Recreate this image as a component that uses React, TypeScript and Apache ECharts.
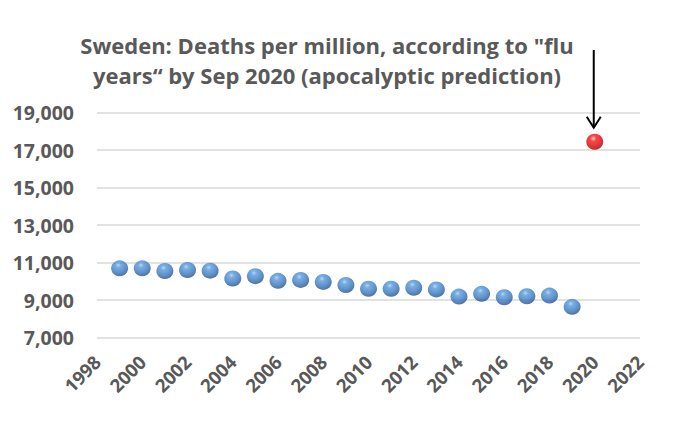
import React, { useEffect, useRef } from "react";
import * as echarts from "echarts";

const years: number[] = [1999, 2000, 2001, 2002, 2003, 2004, 2005, 2006, 2007, 2008, 2009, 2010, 2011, 2012, 2013, 2014, 2015, 2016, 2017, 2018, 2019];
const deaths: number[] = [10690, 10690, 10545, 10600, 10565, 10145, 10270, 10020, 10070, 9965, 9800, 9600, 9600, 9655, 9565, 9180, 9330, 9145, 9200, 9235, 8635];
const predictionYear: number[] = [2020];
const predictionValue: number[] = [17440];
const titleLines: string[] = ["Sweden: Deaths per million, according to \"flu", "years\u201c by Sep 2020 (apocalyptic prediction)"];

const FONT = "'Open Sans', 'Liberation Sans', sans-serif";
const GRAY = "#595959";

export default function App() {
  const ref = useRef<HTMLDivElement>(null);
  useEffect(() => {
    document.body.style.margin = "0";
    const chart = echarts.init(ref.current!, undefined, { renderer: "svg" });
    const blueFill = new echarts.graphic.RadialGradient(0.42, 0.3, 0.75, [
      { offset: 0, color: "#a6cff3" },
      { offset: 0.2, color: "#559ade" },
      { offset: 0.6, color: "#3a78bd" },
      { offset: 1, color: "#1d4a82" },
    ]);
    const redFill = new echarts.graphic.RadialGradient(0.42, 0.3, 0.75, [
      { offset: 0, color: "#ffb5b5" },
      { offset: 0.25, color: "#f21a1a" },
      { offset: 0.7, color: "#d60000" },
      { offset: 1, color: "#8a0000" },
    ]);
    chart.setOption({
      animation: false,
      grid: { left: 97, right: 44, top: 112.5, bottom: 92.5 },
      xAxis: {
        type: "value",
        min: 1998,
        max: 2022,
        interval: 2,
        axisLine: { show: false },
        axisTick: { show: false },
        splitLine: { show: false },
        axisLabel: {
          rotate: 45,
          margin: 21,
          color: GRAY,
          fontFamily: FONT,
          fontWeight: "bold",
          fontSize: 18.5,
          formatter: (v: number) => String(v),
        },
      },
      yAxis: {
        type: "value",
        min: 7000,
        max: 19000,
        interval: 2000,
        axisLine: { show: false },
        axisTick: { show: false },
        splitLine: { show: true, lineStyle: { color: "#d9d9d9", width: 1.5 } },
        axisLabel: {
          margin: 23,
          color: GRAY,
          fontFamily: FONT,
          fontWeight: "bold",
          fontSize: 19.5,
          formatter: (v: number) => v.toLocaleString("en-US"),
        },
      },
      series: [
        {
          type: "scatter",
          data: years.map((y, i) => [y, deaths[i]]),
          symbol: "circle",
          symbolSize: [17, 16],
          itemStyle: { color: blueFill },
        },
        {
          type: "scatter",
          data: predictionYear.map((y, i) => [y, predictionValue[i]]),
          symbol: "circle",
          symbolSize: [17, 16],
          itemStyle: { color: redFill },
        },
      ],
    });
    const p = chart.convertToPixel({ seriesIndex: 1 }, [predictionYear[0], predictionValue[0]]) as number[];
    const ax = p[0] - 1;
    const tipY = p[1] - 14;
    chart.setOption({
      graphic: [
        {
          type: "text",
          x: 327,
          y: 30,
          style: {
            text: titleLines.join("\n"),
            fill: GRAY,
            font: `bold 22px ${FONT}`,
            lineHeight: 30,
            align: "center",
            verticalAlign: "top",
          },
        },
        {
          type: "line",
          shape: { x1: ax, y1: 50, x2: ax, y2: tipY },
          style: { stroke: "#000", lineWidth: 2 },
        },
        {
          type: "polyline",
          shape: { points: [[ax - 7, tipY - 11], [ax, tipY], [ax + 7, tipY - 11]] },
          style: { stroke: "#000", lineWidth: 2, fill: "none" },
        },
      ],
    });
    return () => chart.dispose();
  }, []);
  return <div ref={ref} style={{ width: 684, height: 430 }} />;
}
